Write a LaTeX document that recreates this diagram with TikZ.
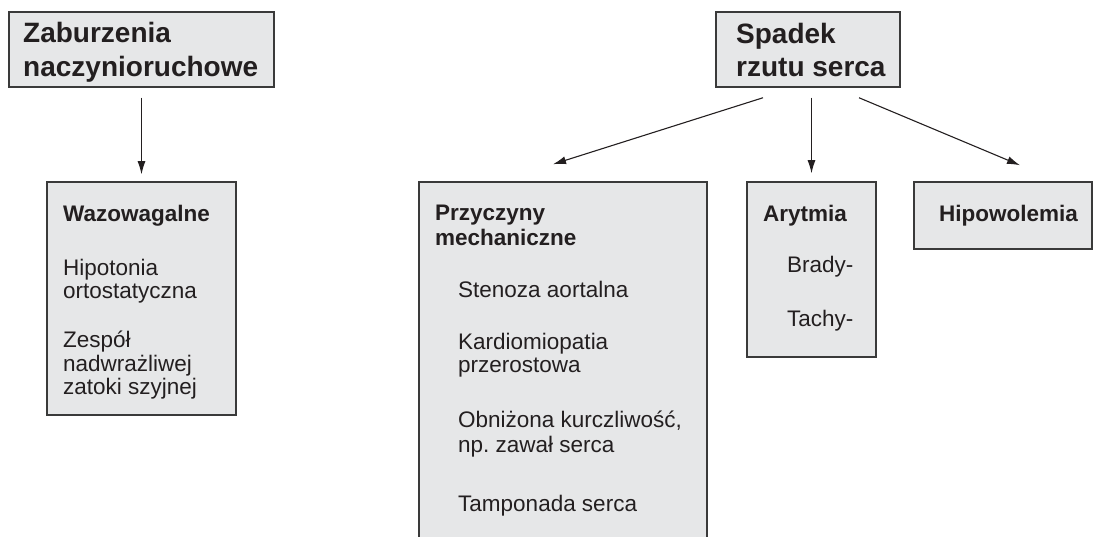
\documentclass[tikz,border=0pt]{standalone}
\usepackage{fontspec}
\setmainfont{Liberation Sans}
\usetikzlibrary{arrows.meta}
\definecolor{boxfill}{HTML}{E6E7E8}
\definecolor{boxline}{HTML}{3A3A3A}
\definecolor{ink}{HTML}{231F20}
\tikzset{
  box/.style={draw=boxline, fill=boxfill, line width=1.5pt, inner sep=0pt},
  title/.style={font=\fontsize{28}{34}\selectfont\bfseries, text=ink, anchor=base west, inner sep=0pt},
  head/.style={font=\fontsize{22.5}{25}\selectfont\bfseries, text=ink, anchor=base west, inner sep=0pt},
  item/.style={font=\fontsize{22.5}{24}\selectfont, text=ink, anchor=base west, inner sep=0pt},
  arr/.style={-{Latex[length=13pt,width=8pt]}, line width=1.1pt, draw=ink}
}
\begin{document}
\begin{tikzpicture}[x=1pt, y=-1pt]
      \useasboundingbox (0,0) rectangle (1093,537);
      % boxes
      \node[box, minimum width=265pt, minimum height=75pt] (zab) at (141.5,49.5) {};
      \node[box, minimum width=184pt, minimum height=75pt] (spadek) at (808,49.5) {};
      \node[box, minimum width=189pt, minimum height=233pt] (waz) at (141.5,298.5) {};
      \node[box, minimum width=288pt, minimum height=366pt] (mech) at (563,365) {};
      \node[box, minimum width=129pt, minimum height=175pt] (ary) at (811.5,269.5) {};
      \node[box, minimum width=178pt, minimum height=67pt] (hipo) at (1003,215.5) {};
      % texts
      \node[title] (zab-1) at (23,43) {Zaburzenia};
      \node[title] (zab-2) at (23,77) {naczynioruchowe};
      \node[title] (spadek-1) at (736,44) {Spadek};
      \node[title] (spadek-2) at (736,77) {rzutu serca};
      \node[head] (waz-h) at (63,222) {Wazowagalne};
      \foreach \txt/\yy [count=\i] in {Hipotonia/276, ortostatyczna/299, Zespół/348,
          nadwrażliwej/372, zatoki szyjnej/395}
        \node[item] (waz-\i) at (63,\yy) {\txt};
      \node[head] (mech-h1) at (435,221) {Przyczyny};
      \node[head] (mech-h2) at (435,246) {mechaniczne};
      \foreach \txt/\yy [count=\i] in {Stenoza aortalna/298, Kardiomiopatia/350,
          przerostowa/373, {Obniżona kurczliwość,}/428, np.\ zawał serca/452,
          Tamponada serca/511}
        \node[item] (mech-\i) at (458,\yy) {\txt};
      \node[head] (ary-h) at (763,222) {Arytmia};
      \node[item] (ary-1) at (787,273) {Brady-};
      \node[item] (ary-2) at (787,327) {Tachy-};
      \node[head] (hipo-h) at (939,222) {Hipowolemia};
      \begin{scope}[arr]
        \draw[shorten <=10pt, shorten >=7pt] (zab.south) to (waz.north);
        \draw ([xshift=-45pt, yshift=-10pt]spadek.south) to ([xshift=-10pt, yshift=17pt]mech.north);
        \draw[shorten <=10pt, shorten >=8pt] (spadek.south -| ary.north) to (ary.north);
        \draw ([xshift=51pt, yshift=-10pt]spadek.south) to ([xshift=17pt, yshift=16pt]hipo.north);
      \end{scope}
    \end{tikzpicture}
\end{document}
